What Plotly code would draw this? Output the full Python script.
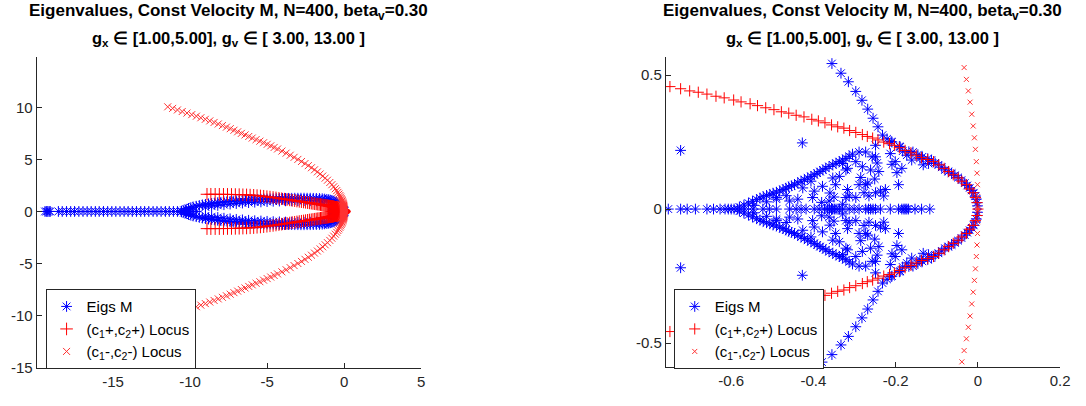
import numpy as np
import plotly.graph_objects as go

# ---------------------------------------------------------------------------
# Eigenvalues of M (real ones, then complex ones with Im > 0; the
# conjugate partners are added below since M is real)
# ---------------------------------------------------------------------------
eig_real_far = [-19.42, -19.33, -19.24, -19.15, -19.08, -18.55, -18.3, -18.02,
                -17.75, -17.5, -17.22, -16.95, -16.68, -16.42, -16.15, -15.9,
                -15.62, -15.35, -15.08, -14.82, -14.55, -14.28, -14.02, -13.75,
                -13.48, -13.2, -12.95, -12.68, -12.4, -12.15, -11.88, -11.6,
                -11.35, -11.08, -10.82, -10.55, -10.3, -10.05, -9.82, -9.6]

eig_real_near = [-0.753, -0.723, -0.707, -0.687, -0.659, -0.643, -0.627, -0.615,
                 -0.607, -0.600, -0.593, -0.585, -0.567, -0.547, -0.523, -0.507,
                 -0.490, -0.458, -0.442, -0.430, -0.418, -0.398, -0.386, -0.373,
                 -0.366, -0.361, -0.356, -0.353, -0.349, -0.345, -0.337, -0.329,
                 -0.313, -0.301, -0.289, -0.273, -0.266, -0.261, -0.255, -0.249,
                 -0.237, -0.213, -0.193, -0.185, -0.180, -0.177, -0.173, -0.169,
                 -0.153, -0.137, -0.117]

# outer branch of the spectrum (large scale)
eig_band = [(-10.55, 0.03), (-10.4, 0.12), (-10.25, 0.21), (-10.1, 0.29),
            (-9.95, 0.36), (-9.8, 0.43), (-9.6, 0.50), (-9.4, 0.57), (-9.2, 0.63),
            (-9.0, 0.68), (-8.8, 0.73), (-8.6, 0.77), (-8.4, 0.81), (-8.2, 0.85),
            (-8.0, 0.88), (-7.8, 0.92), (-7.6, 0.95), (-7.4, 0.97), (-7.2, 1.0),
            (-7.0, 1.02), (-6.8, 1.04), (-6.6, 1.06), (-6.4, 1.08), (-6.2, 1.10),
            (-6.0, 1.12), (-5.8, 1.14), (-5.6, 1.16), (-5.4, 1.17), (-5.2, 1.19),
            (-5.0, 1.20), (-4.8, 1.21), (-4.6, 1.22), (-4.4, 1.23), (-4.2, 1.24),
            (-4.0, 1.25), (-3.8, 1.255), (-3.6, 1.26), (-3.4, 1.265), (-3.2, 1.27),
            (-3.0, 1.27), (-2.8, 1.275), (-2.6, 1.275), (-2.4, 1.27), (-2.2, 1.27),
            (-2.0, 1.26), (-1.8, 1.25), (-1.6, 1.24), (-1.42, 1.22), (-1.26, 1.19),
            (-1.12, 1.16), (-1.0, 1.13), (-0.9, 1.09), (-0.8, 1.05), (-0.72, 1.0),
            (-0.65, 0.94), (-0.58, 0.87), (-0.52, 0.80), (-0.47, 0.74),
            (-0.43, 0.68), (-0.40, 0.63)]

eig_band_inner = [(-9.0, 0.42), (-8.6, 0.5), (-8.2, 0.58), (-7.8, 0.65), (-7.4, 0.71),
                  (-7.0, 0.76), (-6.6, 0.81), (-6.2, 0.85), (-5.8, 0.89), (-5.4, 0.92),
                  (-5.0, 0.95), (-4.6, 0.98), (-4.2, 1.0), (-3.8, 1.02), (-3.4, 1.03),
                  (-3.0, 1.04), (-2.6, 1.04), (-2.2, 1.03), (-1.8, 1.01), (-1.5, 0.98)]

# straight arm leaving the inner region
eig_arm = [(-0.379, 0.571), (-0.355, 0.543), (-0.333, 0.507), (-0.315, 0.475),
           (-0.297, 0.439), (-0.282, 0.406), (-0.268, 0.373), (-0.255, 0.339),
           (-0.243, 0.307), (-0.232, 0.276), (-0.221, 0.262), (-0.211, 0.252),
           (-0.191, 0.234), (-0.183, 0.216)]

# eigenvalues hugging the locus near the origin
eig_edge = [(-0.168, 0.214), (-0.158, 0.213), (-0.146, 0.203), (-0.135, 0.195),
            (-0.122, 0.188), (-0.113, 0.183), (-0.104, 0.172), (-0.096, 0.165),
            (-0.088, 0.156), (-0.080, 0.146), (-0.072, 0.140), (-0.064, 0.134),
            (-0.056, 0.126), (-0.048, 0.118), (-0.040, 0.108), (-0.032, 0.097),
            (-0.026, 0.088), (-0.020, 0.079), (-0.015, 0.070), (-0.010, 0.061),
            (-0.006, 0.048), (-0.004, 0.037), (-0.002, 0.024), (-0.001, 0.012)]

# inner lobe boundary
eig_lobe = [(-0.580, 0.008), (-0.569, 0.015), (-0.558, 0.022), (-0.548, 0.029),
            (-0.538, 0.036), (-0.530, 0.041), (-0.522, 0.046), (-0.514, 0.051),
            (-0.506, 0.055), (-0.498, 0.059), (-0.490, 0.063), (-0.482, 0.068),
            (-0.474, 0.073), (-0.467, 0.078), (-0.460, 0.083), (-0.453, 0.087),
            (-0.446, 0.091), (-0.438, 0.098), (-0.430, 0.104), (-0.422, 0.110),
            (-0.414, 0.116), (-0.406, 0.122), (-0.398, 0.128), (-0.391, 0.134),
            (-0.384, 0.140), (-0.377, 0.146), (-0.370, 0.152), (-0.362, 0.159),
            (-0.353, 0.165), (-0.345, 0.171), (-0.337, 0.177), (-0.329, 0.183),
            (-0.321, 0.189), (-0.313, 0.197), (-0.305, 0.205), (-0.289, 0.213),
            (-0.273, 0.213), (-0.257, 0.195), (-0.245, 0.172), (-0.241, 0.140),
            (-0.251, 0.112), (-0.268, 0.097), (-0.545, 0.014), (-0.514, 0.027),
            (-0.490, 0.037), (-0.466, 0.050)]

# scattered eigenvalues inside the lobe
eig_inner = [(-0.723, 0.219), (-0.427, 0.247), (-0.490, 0.043), (-0.458, 0.030),
             (-0.438, 0.037), (-0.426, 0.079), (-0.406, 0.104), (-0.398, 0.067),
             (-0.402, 0.043), (-0.378, 0.085), (-0.380, 0.025), (-0.362, 0.030),
             (-0.360, 0.060), (-0.350, 0.045), (-0.353, 0.116), (-0.346, 0.091),
             (-0.337, 0.122), (-0.329, 0.170), (-0.317, 0.152), (-0.329, 0.018),
             (-0.313, 0.049), (-0.317, 0.073), (-0.321, 0.146), (-0.321, 0.043),
             (-0.297, 0.177), (-0.297, 0.043), (-0.289, 0.091), (-0.285, 0.118),
             (-0.281, 0.158), (-0.277, 0.061), (-0.273, 0.091), (-0.265, 0.049),
             (-0.261, 0.146), (-0.249, 0.061), (-0.249, 0.195), (-0.249, 0.238),
             (-0.237, 0.067), (-0.229, 0.049), (-0.225, 0.073), (-0.213, 0.207),
             (-0.209, 0.250), (-0.209, 0.167), (-0.201, 0.177), (-0.197, 0.136),
             (-0.193, 0.091), (-0.189, 0.232), (-0.185, 0.152), (-0.173, 0.201),
             (-0.161, 0.183), (-0.141, 0.189), (-0.133, 0.165), (-0.120, 0.170)]

# ---------------------------------------------------------------------------
# (c1+, c2+) locus, upper half
# ---------------------------------------------------------------------------
locus_plus = [(0.0, 0.0), (-0.002, 0.024), (-0.006, 0.043), (-0.012, 0.061),
              (-0.020, 0.075), (-0.028, 0.091), (-0.039, 0.104), (-0.048, 0.116),
              (-0.060, 0.128), (-0.071, 0.140), (-0.082, 0.152), (-0.095, 0.165),
              (-0.108, 0.177), (-0.122, 0.185), (-0.137, 0.192), (-0.150, 0.201),
              (-0.163, 0.210), (-0.177, 0.219), (-0.191, 0.229), (-0.203, 0.238),
              (-0.215, 0.244), (-0.229, 0.250), (-0.243, 0.258), (-0.256, 0.265),
              (-0.269, 0.271), (-0.281, 0.278), (-0.297, 0.286), (-0.312, 0.293),
              (-0.326, 0.302), (-0.341, 0.307), (-0.356, 0.314), (-0.372, 0.322),
              (-0.388, 0.329), (-0.404, 0.335), (-0.423, 0.344), (-0.442, 0.350),
              (-0.460, 0.358), (-0.478, 0.363), (-0.496, 0.371), (-0.516, 0.378),
              (-0.536, 0.386), (-0.554, 0.393), (-0.576, 0.400), (-0.594, 0.407),
              (-0.617, 0.415), (-0.637, 0.421), (-0.659, 0.429), (-0.680, 0.436),
              (-0.701, 0.441), (-0.723, 0.449), (-0.749, 0.457), (-0.775, 0.465),
              (-0.80, 0.473), (-0.83, 0.482), (-0.86, 0.49), (-0.89, 0.50),
              (-0.93, 0.51), (-0.97, 0.52), (-1.01, 0.53), (-1.06, 0.545),
              (-1.11, 0.56), (-1.17, 0.575), (-1.23, 0.59), (-1.3, 0.605),
              (-1.37, 0.62), (-1.45, 0.64), (-1.53, 0.66), (-1.62, 0.68),
              (-1.71, 0.70), (-1.81, 0.72), (-1.91, 0.745), (-2.02, 0.77),
              (-2.13, 0.795), (-2.25, 0.82), (-2.37, 0.85), (-2.5, 0.88),
              (-2.63, 0.91), (-2.77, 0.94), (-2.91, 0.97), (-3.06, 1.0),
              (-3.21, 1.04), (-3.37, 1.07), (-3.53, 1.11), (-3.7, 1.15),
              (-3.87, 1.18), (-4.05, 1.22), (-4.23, 1.26), (-4.42, 1.30),
              (-4.61, 1.34), (-4.81, 1.38), (-5.01, 1.42), (-5.22, 1.46),
              (-5.43, 1.49), (-5.65, 1.52), (-5.87, 1.55), (-6.1, 1.57),
              (-6.33, 1.59), (-6.57, 1.60), (-6.81, 1.615), (-7.06, 1.625),
              (-7.31, 1.632), (-7.57, 1.638), (-7.83, 1.643), (-8.1, 1.646),
              (-8.37, 1.648), (-8.65, 1.65), (-8.9, 1.65)]

# ---------------------------------------------------------------------------
# (c1-, c2-) locus, upper half
# ---------------------------------------------------------------------------
locus_minus_im = [0.004, 0.047, 0.091, 0.134, 0.177, 0.223, 0.266, 0.310, 0.354,
                  0.399, 0.441, 0.484, 0.528, 0.570, 0.62, 0.68, 0.75, 0.83, 0.92,
                  1.02, 1.13, 1.25, 1.38, 1.52, 1.67, 1.83, 2.0, 2.18, 2.37, 2.57,
                  2.78, 3.0, 3.2, 3.4, 3.6, 3.8, 4.0, 4.2, 4.4, 4.6, 4.8, 5.0, 5.2,
                  5.4, 5.6, 5.8, 6.0, 6.15, 6.3, 6.45, 6.6, 6.75, 6.9, 7.05, 7.2,
                  7.35, 7.5, 7.65, 7.8, 7.95, 8.1, 8.25, 8.4, 8.55, 8.7, 8.85, 9.0,
                  9.15, 9.3, 9.45, 9.6, 9.75, 9.9, 10.05]
locus_minus_re = [-0.0, -0.0003, -0.001, -0.0022, -0.0038, -0.006, -0.0085, -0.0115,
                  -0.015, -0.019, -0.0233, -0.028, -0.0335, -0.039, -0.046, -0.055,
                  -0.067, -0.083, -0.102, -0.125, -0.153, -0.188, -0.229, -0.277,
                  -0.335, -0.402, -0.48, -0.57, -0.674, -0.793, -0.927, -1.08,
                  -1.229, -1.387, -1.555, -1.733, -1.92, -2.117, -2.323, -2.539,
                  -2.765, -3.0, -3.245, -3.499, -3.763, -4.037, -4.32, -4.539,
                  -4.763, -4.993, -5.227, -5.467, -5.713, -5.964, -6.19, -6.43,
                  -6.67, -6.91, -7.15, -7.39, -7.64, -7.90, -8.17, -8.44, -8.72,
                  -9.01, -9.30, -9.59, -9.89, -10.20, -10.51, -10.82, -11.13, -11.45]

# axis limits and ticks
left_xrange = [-19.96, 5]
left_yrange = [-15, 14.85]
right_xrange = [-0.759, 0.2]
right_yrange = [-0.589, 0.568]
left_xticks = [-15, -10, -5, 0, 5]
left_yticks = [-15, -10, -5, 0, 5, 10]
right_xticks = [-0.6, -0.4, -0.2, 0, 0.2]
right_xlabels = ["-0.6", "-0.4", "-0.2", "0", "0.2"]
right_yticks = [-0.5, 0, 0.5]
right_ylabels = ["-0.5", "0", "0.5"]

title_1 = "<b>Eigenvalues, Const Velocity M, N=400, beta<sub>v</sub>=0.30</b>"
title_2 = "<b>g<sub>x</sub> \u2208 [1.00,5.00], g<sub>v</sub> \u2208 [ 3.00, 13.00 ]</b>"
names = ["Eigs M", "(c<sub>1</sub>+,c<sub>2</sub>+) Locus",
         "(c<sub>1</sub>-,c<sub>2</sub>-) Locus"]

# ---------------------------------------------------------------------------
# assemble full point sets
# ---------------------------------------------------------------------------
complex_upper = eig_band + eig_band_inner + eig_arm + eig_edge + eig_lobe + eig_inner
cu = np.array(complex_upper)
eig_re = np.concatenate([eig_real_far, eig_real_near, cu[:, 0], cu[:, 0]])
eig_im = np.concatenate([np.zeros(len(eig_real_far) + len(eig_real_near)),
                         cu[:, 1], -cu[:, 1]])

lp = np.array(locus_plus)
plus_re = np.concatenate([lp[:, 0], lp[1:, 0]])
plus_im = np.concatenate([lp[:, 1], -lp[1:, 1]])

minus_re = np.concatenate([locus_minus_re, locus_minus_re])
minus_im = np.concatenate([locus_minus_im, -np.array(locus_minus_im)])


def inside(re, im, xr, yr):
    """Keep only points whose centre lies inside the axes box."""
    m = (re >= xr[0]) & (re <= xr[1]) & (im >= yr[0]) & (im <= yr[1])
    return re[m], im[m]


FONT = "Liberation Sans, Arial, Helvetica, sans-serif"
AX_COL = "#262626"
BLUE = "rgb(0,0,255)"
RED = "rgb(255,0,0)"
PINK = "rgb(255,50,50)"

fig = go.Figure()
# (x axis, y axis, legend, x range, y range, '+' size, 'x' size)
panels = [("x", "y", "legend", left_xrange, left_yrange, 9, 7),
          ("x2", "y2", "legend2", right_xrange, right_yrange, 8, 5)]
for xa, ya, leg, xr, yr, psize, xsize in panels:
    ex, ey = inside(eig_re, eig_im, xr, yr)
    px, py = inside(plus_re, plus_im, xr, yr)
    mx, my = inside(minus_re, minus_im, xr, yr)
    fig.add_trace(go.Scatter(
        x=ex, y=ey, mode="markers", name=names[0],
        marker=dict(symbol="asterisk-open", size=9, color=BLUE,
                    line=dict(color=BLUE, width=1)),
        xaxis=xa, yaxis=ya, legend=leg))
    fig.add_trace(go.Scatter(
        x=px, y=py, mode="markers", name=names[1],
        marker=dict(symbol="cross-thin-open", size=psize, color=RED,
                    line=dict(color=RED, width=1)),
        xaxis=xa, yaxis=ya, legend=leg))
    fig.add_trace(go.Scatter(
        x=mx, y=my, mode="markers", name=names[2],
        marker=dict(symbol="x-thin-open", size=xsize, color=PINK,
                    line=dict(color=PINK, width=1)),
        xaxis=xa, yaxis=ya, legend=leg))

W, H = 1086, 406
axis_common = dict(showline=True, linecolor=AX_COL, linewidth=1, mirror=False,
                   ticks="inside", ticklen=5, tickcolor=AX_COL, showgrid=False,
                   zeroline=False, tickfont=dict(family=FONT, size=15, color=AX_COL))
legend_common = dict(xanchor="left", yanchor="top", bgcolor="white",
                     bordercolor=AX_COL, borderwidth=1, tracegroupgap=0,
                     font=dict(family=FONT, size=15, color="black"))

fig.update_layout(
    width=W, height=H, autosize=False,
    margin=dict(l=0, r=0, t=0, b=0),
    paper_bgcolor="white", plot_bgcolor="white",
    font=dict(family=FONT, color="black"),
    xaxis=dict(domain=[37 / W, 425 / W], range=left_xrange, anchor="y",
               tickvals=left_xticks, ticktext=[str(v) for v in left_xticks],
               **axis_common),
    yaxis=dict(domain=[(H - 375) / H, (H - 58) / H], range=left_yrange, anchor="x",
               tickvals=left_yticks, ticktext=[str(v) for v in left_yticks],
               **axis_common),
    xaxis2=dict(domain=[672 / W, 1070 / W], range=right_xrange, anchor="y2",
                tickvals=right_xticks, ticktext=right_xlabels, **axis_common),
    yaxis2=dict(domain=[(H - 374.3) / H, (H - 58) / H], range=right_yrange,
                anchor="x2", tickvals=right_yticks, ticktext=right_ylabels,
                **axis_common),
    legend=dict(x=46 / W, y=1 - 295 / H, **legend_common),
    legend2=dict(x=680 / W, y=1 - 295 / H, **legend_common),
)

for cx in [(37 + 425) / 2 / W, (672 + 1070) / 2 / W]:
    fig.add_annotation(text=title_1, x=cx, y=1 - 12 / H, xref="paper", yref="paper",
                       xanchor="center", yanchor="middle", showarrow=False,
                       font=dict(family=FONT, size=17, color="black"))
    fig.add_annotation(text=title_2, x=cx, y=1 - 40 / H, xref="paper", yref="paper",
                       xanchor="center", yanchor="middle", showarrow=False,
                       font=dict(family=FONT, size=16.5, color="black"))

fig.write_html("out.html")
